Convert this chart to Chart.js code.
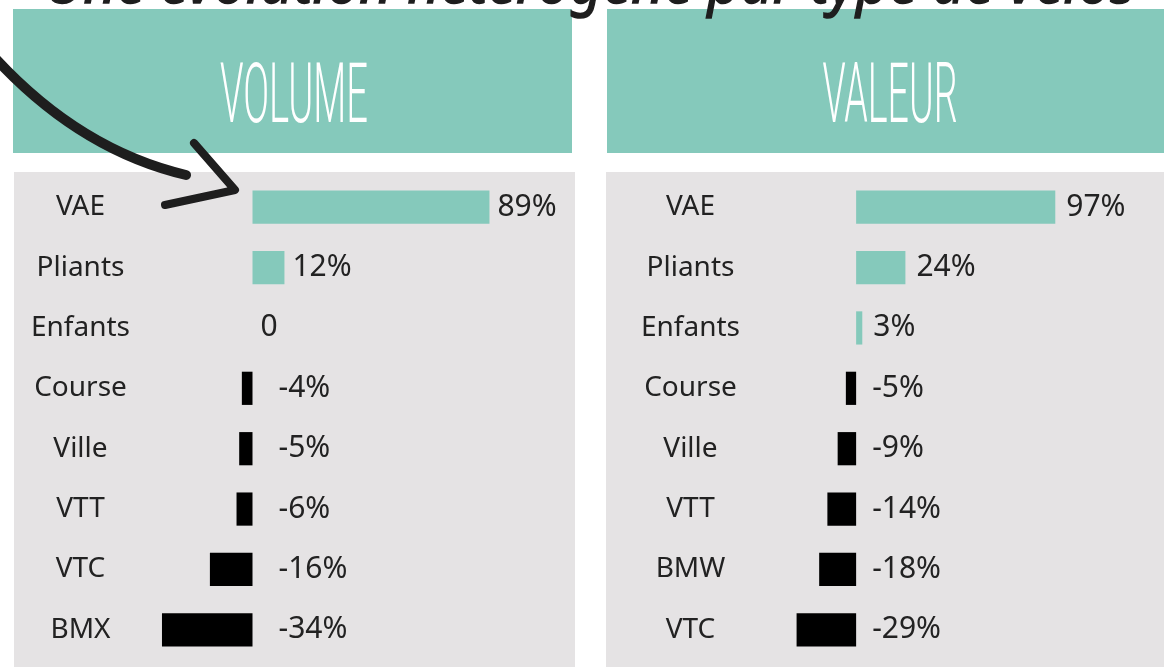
<!DOCTYPE html>
<html>
<head>
<meta charset="utf-8">
<script src="https://cdn.jsdelivr.net/npm/chart.js@4.4.1/dist/chart.umd.min.js"></script>
<style>
  html, body { margin: 0; padding: 0; background: #fff; }
  body { width: 1164px; height: 667px; position: relative; overflow: hidden; font-family: 'Noto Sans', sans-serif; }
  .head { position: absolute; top: 9px; height: 144px; background: #85C9BB; }
  .panel { position: absolute; top: 172px; height: 495px; background: #E5E3E4; }
  #overlay { position: absolute; left: 0; top: 0; pointer-events: none; }
</style>
</head>
<body>
<div class="head" style="left:13px; width:559px;"></div>
<div class="head" style="left:607px; width:557px;"></div>

<div class="panel" style="left:14px; width:561px;">
  <canvas id="volume-chart" width="561" height="495"></canvas>
</div>
<div class="panel" style="left:606px; width:558px;">
  <canvas id="valeur-chart" width="558" height="495"></canvas>
</div>

<svg id="overlay" width="1164" height="667">
  <!-- titre coupé en haut de l'image -->
  <text x="45" y="3" textLength="1090" lengthAdjust="spacingAndGlyphs"
        font-family="Noto Sans" font-style="italic" font-size="62" fill="#1e1e1e"
        stroke="#1e1e1e" stroke-width="1.5">Une évolution hétérogène par type de vélos</text>
  <text x="294" y="122" text-anchor="middle" textLength="148" lengthAdjust="spacingAndGlyphs"
        font-family="Roboto" font-weight="300" font-size="84" fill="#fff">VOLUME</text>
  <text x="890" y="122" text-anchor="middle" textLength="135" lengthAdjust="spacingAndGlyphs"
        font-family="Roboto" font-weight="300" font-size="84" fill="#fff">VALEUR</text>
  <!-- flèche -->
  <path d="M -5 58 Q 80 150 186 175" fill="none" stroke="#1e1e1e" stroke-width="10" stroke-linecap="round"/>
  <polyline points="194,143 235,190 165,205" fill="none" stroke="#1e1e1e" stroke-width="8"
            stroke-linecap="round" stroke-linejoin="round"/>
</svg>

<script>
  // Evolution par type de vélo (%)
  const volumeLabels = ['VAE', 'Pliants', 'Enfants', 'Course', 'Ville', 'VTT', 'VTC', 'BMX'];
  const volumeValues = [89, 12, 0, -4, -5, -6, -16, -34];

  const valeurLabels = ['VAE', 'Pliants', 'Enfants', 'Course', 'Ville', 'VTT', 'BMW', 'VTC'];
  const valeurValues = [97, 24, 3, -5, -9, -14, -18, -29];

  const TEAL = '#85C9BB';
  const TEXT = '#222';

  // draws the value next to each bar
  function valueLabels(posGap, negGap) {
    return {
      id: 'valueLabels',
      afterDatasetsDraw(chart) {
        const ctx = chart.ctx;
        const meta = chart.getDatasetMeta(0);
        const zero = chart.scales.x.getPixelForValue(0);
        const values = chart.data.datasets[0].data;
        ctx.save();
        ctx.font = '30px "Noto Sans"';
        ctx.fillStyle = TEXT;
        ctx.textAlign = 'left';
        ctx.textBaseline = 'middle';
        meta.data.forEach((bar, i) => {
          const v = values[i];
          const text = v === 0 ? '0' : v + '%';
          const x = v >= 0 ? bar.x + posGap : zero + negGap;
          ctx.fillText(text, x, bar.y);
        });
        ctx.restore();
      },
    };
  }

  function makeChart(id, labels, values, opts) {
    return new Chart(document.getElementById(id).getContext('2d'), {
      type: 'bar',
      data: {
        labels: labels,
        datasets: [{
          data: values,
          backgroundColor: values.map((v) => (v >= 0 ? TEAL : '#000')),
          borderWidth: 0,
          barPercentage: 0.55,
          categoryPercentage: 1,
        }],
      },
      options: {
        indexAxis: 'y',
        responsive: false,
        animation: false,
        layout: { padding: { top: 5, bottom: 7, left: 0, right: opts.padRight } },
        plugins: {
          legend: { display: false },
          tooltip: { enabled: false },
        },
        scales: {
          x: {
            display: false,
            min: opts.min,
            max: opts.max,
          },
          y: {
            grid: { display: false, drawTicks: false },
            border: { display: false },
            ticks: {
              crossAlign: 'center',
              padding: opts.tickPad,
              color: TEXT,
              font: { family: 'Noto Sans', size: 28 },
            },
            afterFit(scale) {
              scale.width = opts.axisWidth;
              // tick padding should not shrink the plot vertically
              scale.paddingTop = 0;
              scale.paddingBottom = 0;
            },
          },
        },
      },
      plugins: [valueLabels(opts.posGap, opts.negGap)],
    });
  }

  makeChart('volume-chart', volumeLabels, volumeValues, {
    min: -40, max: 120, padRight: 3, axisWidth: 132, tickPad: 16, posGap: 8, negGap: 26,
  });

  makeChart('valeur-chart', valeurLabels, valeurValues, {
    min: -40, max: 148, padRight: 4, axisWidth: 168, tickPad: 34, posGap: 11, negGap: 16,
  });
</script>
</body>
</html>
